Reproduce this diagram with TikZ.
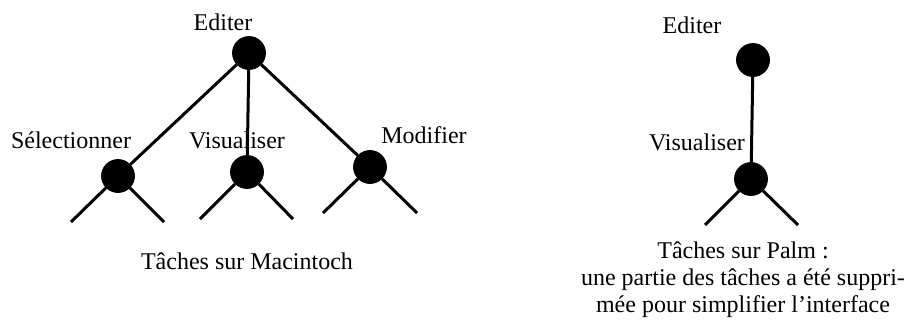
\documentclass[tikz,border=0pt]{standalone}
\usepackage{fontspec}
\setmainfont{Liberation Serif}
\tikzset{task/.style={circle,fill=black,draw=black,inner sep=0pt,minimum size=16.5pt},
  branch/.style={line width=1.5pt},
  lbl/.style={inner sep=0pt,font=\fontsize{12}{13.5}\selectfont}}
\begin{document}
\begin{tikzpicture}[x=0.5pt,y=-0.5pt]
    \useasboundingbox (0,0) rectangle (904,327);
    % Macintoch
    \node[task] (edit) at (249,53) {};
    \node[task] (select) at (118,176) {};
    \node[task] (view) at (247,172) {};
    \node[task] (modify) at (370,167) {};
    \coordinate (s1) at (71,222);  \coordinate (s2) at (164,222);
    \coordinate (v1) at (200,219); \coordinate (v2) at (293,219);
    \coordinate (m1) at (323,213); \coordinate (m2) at (417,213);
    \draw[branch] (edit) -- (select);
    \draw[branch] (edit) -- (view);
    \draw[branch] (edit) -- (modify);
    \draw[branch] (s1) -- (select) -- (s2);
    \draw[branch] (v1) -- (view) -- (v2);
    \draw[branch] (m1) -- (modify) -- (m2);
    \node[lbl] (editl) at (223,22) {Editer};
    \node[lbl] (selectl) at (71,140) {Sélectionner};
    \node[lbl] (viewl) at (237,140) {Visualiser};
    \node[lbl] (modifyl) at (424,135) {Modifier};
    \node[lbl] (mac) at (247,261) {Tâches sur Macintoch};
    % Palm
    \node[task] (pedit) at (753,60) {};
    \node[task] (pview) at (751,179) {};
    \coordinate (p1) at (705,225); \coordinate (p2) at (798,225);
    \draw[branch] (pedit) -- (pview);
    \draw[branch] (p1) -- (pview) -- (p2);
    \node[lbl] (peditl) at (692,25) {Editer};
    \node[lbl] (pviewl) at (697,142) {Visualiser};
    \node[lbl,align=center,anchor=north] (palm) at (743,241)
        {Tâches sur Palm :\\une partie des tâches a été suppri-\\mée pour simplifier l’interface};
\end{tikzpicture}
\end{document}
